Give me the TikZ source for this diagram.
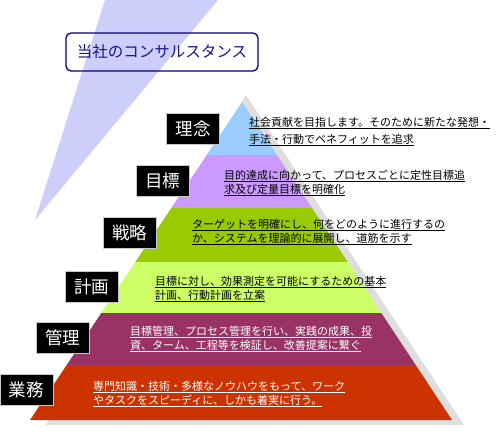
\documentclass[tikz,border=0pt]{standalone}
\usepackage{fontspec}
\setmainfont{Noto Sans CJK JP}
\definecolor{wedgec}{RGB}{206,206,250}
\definecolor{titleblue}{RGB}{20,20,140}
\definecolor{titleline}{RGB}{0,0,128}
\definecolor{shadowc}{RGB}{222,222,222}
\definecolor{bandA}{RGB}{153,204,255}
\definecolor{bandB}{RGB}{204,153,255}
\definecolor{bandC}{RGB}{153,204,0}
\definecolor{bandD}{RGB}{204,255,102}
\definecolor{bandE}{RGB}{153,51,102}
\definecolor{bandF}{RGB}{204,51,0}
\newcommand\myul[1]{\setbox0=\hbox{#1}\rlap{\rule[-2.2pt]{\wd0}{0.7pt}}\box0}
\begin{document}
\begin{tikzpicture}[x=1pt,y=-1pt,
  lab/.style={fill=black, draw=gray!45, line width=0.5pt, text=white,
    font=\fontsize{17.5}{20}\selectfont, minimum width=53pt, minimum height=31pt, inner sep=0pt},
  desc/.style={anchor=base west, inner sep=0pt, font=\fontsize{11}{14}\selectfont},
  wdesc/.style={desc, text=white}]
\useasboundingbox (0,0) rectangle (500,437);
% wedge
\fill[wedgec] (105,0) -- (218,0) -- (35,220) -- cycle;
% title
\node[draw=titleline, line width=1.3pt, rounded corners=5pt, minimum width=192pt,
  minimum height=38pt, inner sep=0pt, text=titleblue,
  font=\fontsize{15.5}{18}\selectfont] (title) at (162,52) {当社のコンサルスタンス};
% shadow
\fill[shadowc] (246,95) -- (464,425) -- (46,425) -- cycle;
% bands
\fill[bandA] (242,102) -- (277,155) -- (206.7,155) -- cycle;
\fill[bandB] (206.7,155) -- (277,155) -- (312,208) -- (171.3,208) -- cycle;
\fill[bandC] (171.3,208) -- (312,208) -- (347.7,262) -- (135.3,262) -- cycle;
\fill[bandD] (135.3,262) -- (347.7,262) -- (381.3,313) -- (101.3,313) -- cycle;
\fill[bandE] (101.3,313) -- (381.3,313) -- (415.7,365) -- (66.7,365) -- cycle;
\fill[bandF] (66.7,365) -- (415.7,365) -- (452,420) -- (30,420) -- cycle;
% labels
\node[lab] (l1) at (193,129) {理念};
\node[lab] (l2) at (162.5,181) {目標};
\node[lab] (l3) at (129.5,233) {戦略};
\node[lab] (l4) at (91.5,287) {計画};
\node[lab] (l5) at (62.5,338) {管理};
\node[lab] (l6) at (26.5,390) {業務};
% descriptions
\node[desc] (d1a) at (249,126.5) {\myul{社会貢献を目指します。そのために新たな発想・}};
\node[desc] (d1b) at (249,143.5) {\myul{手法・行動でベネフィットを追求}};
\node[desc] (d2a) at (224,179) {\myul{目的達成に向かって、プロセスごとに定性目標追}};
\node[desc] (d2b) at (224,193) {\myul{求及び定量目標を明確化}};
\node[desc] (d3a) at (192,228) {\myul{ターゲットを明確にし、何をどのように進行するの}};
\node[desc] (d3b) at (192,242.5) {\myul{か、システムを理論的に展開し、道筋を示す}};
\node[desc] (d4a) at (155,285) {\myul{目標に対し、効果測定を可能にするための基本}};
\node[desc] (d4b) at (155,299) {\myul{計画、行動計画を立案}};
\node[wdesc] (d5a) at (130,335) {\myul{目標管理、プロセス管理を行い、実践の成果、投}};
\node[wdesc] (d5b) at (130,349) {\myul{資、ターム、工程等を検証し、改善提案に繋ぐ}};
\node[wdesc] (d6a) at (93,390) {\myul{専門知識・技術・多様なノウハウをもって、ワーク}};
\node[wdesc] (d6b) at (93,404) {\myul{やタスクをスピーディに、しかも着実に行う。}};
\end{tikzpicture}
\end{document}
